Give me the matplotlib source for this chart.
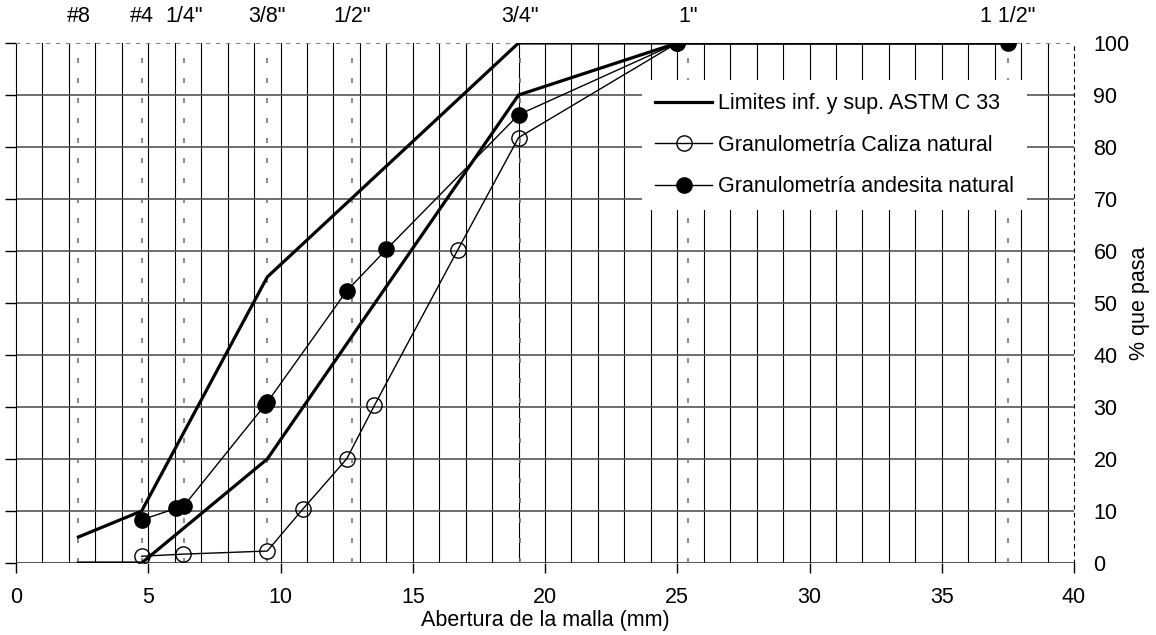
import matplotlib
matplotlib.use("Agg")
import matplotlib.pyplot as plt
import matplotlib.transforms as mtransforms

plt.rcParams['font.family'] = ['Liberation Sans', 'DejaVu Sans']

# ASTM C33 limits
lim_x = [2.36, 4.75, 9.5, 19, 25, 37.5]
lim_sup = [5, 10, 55, 100, 100, 100]
lim_inf = [0, 0, 20, 90, 100, 100]

# caliza natural (open markers)
cal_x = [4.75, 6.3, 9.5, 10.85, 12.5, 13.55, 16.7, 19, 25]
cal_y = [1.3, 1.7, 2.3, 10.4, 20, 30.3, 60.2, 81.8, 100]

# andesita natural (filled markers)
and_x = [4.75, 6.05, 6.35, 9.4, 9.5, 12.5, 14, 19, 25, 37.5]
and_y = [8.3, 10.5, 11, 30.3, 30.9, 52.3, 60.3, 86.2, 100, 100]

# sieve lines on top
sieve_x = [2.36, 4.75, 6.35, 9.5, 12.7, 19.05, 25.4, 37.5]
sieve_lab = ['#8', '#4', '1/4"', '3/8"', '1/2"', '3/4"', '1"', '1 1/2"']

fs = 15.5

fig = plt.figure(figsize=(11.56, 6.35), dpi=100)
ax = fig.add_axes([16/1156, 1 - 563/635, (1074 - 16)/1156, 520/635])

ax.set_xlim(0, 40)
ax.set_ylim(0, 100)

# grid
for xv in range(1, 40):
    ax.axvline(xv, color='black', lw=0.8, zorder=1)
for yv in range(10, 100, 10):
    ax.axhline(yv, color='#555555', lw=1.2, zorder=1)
ax.axhline(0, color='#333333', lw=1.2, zorder=1)
for xv in sieve_x:
    ax.axvline(xv, color='#777777', lw=1.2, ls=(0, (3, 9)), zorder=1.5)

ax.plot(lim_x, lim_sup, color='black', lw=2.3, zorder=3,
        label='Limites inf. y sup. ASTM C 33')
ax.plot(lim_x, lim_inf, color='black', lw=2.3, zorder=3)
ax.plot(cal_x, cal_y, color='black', lw=1.0, marker='o', ms=11,
        mfc='none', mec='black', mew=1.0, zorder=4,
        label='Granulometría Caliza natural')
ax.plot(and_x, and_y, color='black', lw=1.0, marker='o', ms=11,
        mfc='black', mec='black', zorder=4,
        label='Granulometría andesita natural')

# spines
ax.spines['top'].set_linestyle((0, (3, 6)))
ax.spines['top'].set_color('#888888')
ax.spines['right'].set_linestyle((0, (3, 4)))
ax.spines['right'].set_color('black')
ax.spines['left'].set_color('black')
ax.spines['bottom'].set_visible(False)

ax.set_xticks(range(0, 41, 5))
ax.set_yticks(range(0, 101, 10))
ax.tick_params(axis='x', direction='out', length=7, width=1, labelsize=fs, pad=10)
ax.tick_params(axis='y', left=True, right=False, labelleft=False,
               labelright=True, direction='out', length=8, width=1,
               labelsize=fs, pad=6)
ax.yaxis.set_label_position('right')
ax.set_ylabel('% que pasa', fontsize=fs)
ax.yaxis.set_label_coords(1.052, 0.5)
ax.set_xlabel('Abertura de la malla (mm)', fontsize=fs, labelpad=2)

trans = mtransforms.blended_transform_factory(ax.transData, ax.transAxes)
for xv, lab in zip(sieve_x, sieve_lab):
    ax.text(xv, 1.05, lab, transform=trans, ha='center', va='center',
            fontsize=fs)

leg = ax.legend(loc='upper left', bbox_to_anchor=(0.592, 0.928), fontsize=fs,
                frameon=True, fancybox=False, framealpha=1, edgecolor='none',
                facecolor='white', handlelength=2.65, handletextpad=0.28,
                labelspacing=0.95, borderpad=0.6, borderaxespad=0,
                markerscale=1.0)
leg.set_zorder(5)

fig.savefig('out.png', dpi=100)
